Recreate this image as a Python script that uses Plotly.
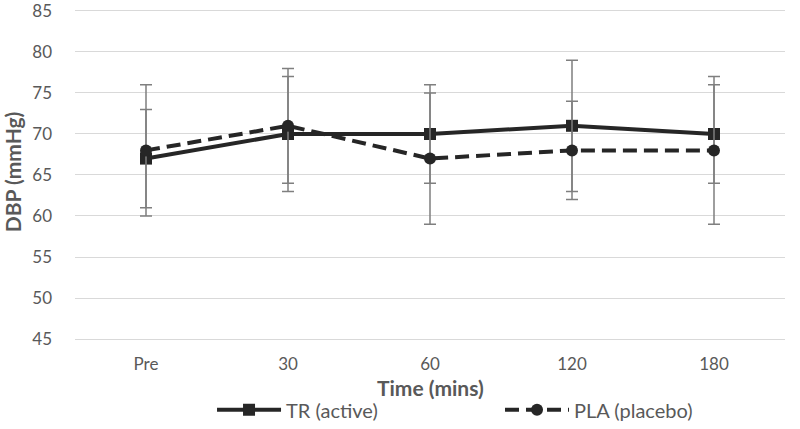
import plotly.graph_objects as go

categories = ["Pre", "30", "60", "120", "180"]
tr_mean = [67, 70, 70, 71, 70]
tr_sd = [6, 7, 6, 8, 6]
pla_mean = [68, 71, 67, 68, 68]
pla_sd = [8, 7, 8, 6, 9]
y_ticks = [45, 50, 55, 60, 65, 70, 75, 80, 85]

ink = "#262626"
grey_text = "#595959"
err_col = "#7f7f7f"
font_fam = "Lato, Open Sans, sans-serif"

fig = go.Figure()
fig.add_trace(go.Scatter(
    x=categories, y=tr_mean, name="TR (active)", mode="lines+markers",
    line=dict(color=ink, width=4),
    marker=dict(symbol="square", size=12, color=ink),
    error_y=dict(type="data", array=tr_sd, visible=True, color=err_col, thickness=1.5, width=6),
))
fig.add_trace(go.Scatter(
    x=categories, y=pla_mean, name="PLA (placebo)", mode="lines+markers",
    line=dict(color=ink, width=4, dash="14px,7px"),
    marker=dict(symbol="circle", size=12, color=ink),
    error_y=dict(type="data", array=pla_sd, visible=True, color=err_col, thickness=1.5, width=6),
))

fig.update_layout(
    width=800, height=429,
    margin=dict(l=75, r=15, t=5, b=90, autoexpand=False),
    paper_bgcolor="white", plot_bgcolor="white",
    font=dict(family=font_fam, color=grey_text, size=17),
    xaxis=dict(
        type="category", range=[-0.5, 4.5],
        showgrid=False, showline=True, linecolor="#d9d9d9", linewidth=1,
        ticks="", ticklabelstandoff=10, tickfont=dict(size=17, color=grey_text),
    ),
    yaxis=dict(
        range=[45, 85.73], tickvals=y_ticks, showgrid=True, gridcolor="#d9d9d9", gridwidth=1,
        zeroline=False, showline=False, ticks="", ticklabelstandoff=22,
        ticklabeloverflow="allow",
        tickfont=dict(size=17, color=grey_text),
        title=dict(text="<b>DBP (mmHg)</b>", font=dict(size=21, color=grey_text), standoff=20),
    ),
    legend=dict(
        orientation="h", xanchor="left", x=0.193, yref="container", y=0.045, yanchor="middle",
        font=dict(size=20, color=grey_text), itemwidth=64, entrywidth=209,
    ),
    showlegend=True,
    annotations=[dict(
        text="<b>Time (mins)</b>", xref="paper", yref="paper", x=0.5, y=0,
        xanchor="center", yanchor="middle", yshift=-48, showarrow=False,
        font=dict(size=21, color=grey_text, family=font_fam),
    )],
)

fig.write_html("out.html", config={"displayModeBar": False},
               post_script="document.body.style.margin='0px';")
